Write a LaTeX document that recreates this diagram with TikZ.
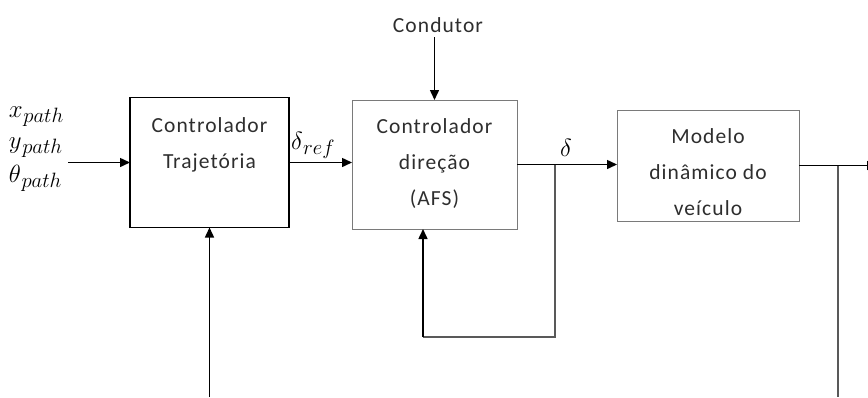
\documentclass[tikz,border=0pt]{standalone}
\usepackage{fontspec}
\setmainfont{Carlito}[LetterSpace=5]
\usetikzlibrary{arrows.meta}
\definecolor{txt}{HTML}{2E2E2E}
\definecolor{thinline}{HTML}{7A7A7A}
% signal name with a large lowered subscript
\newcommand{\signame}[2]{$#1$\kern0.5pt\raisebox{-5pt}{\fontsize{20}{22}\selectfont$#2$}}
\begin{document}
\begin{tikzpicture}[x=1pt,y=-1pt,
  every node/.style={inner sep=0pt, outer sep=0pt},
  lbl/.style={font=\fontsize{21.5}{36}\selectfont, text=txt, align=center},
  mathlbl/.style={font=\fontsize{24}{28}\selectfont},
  blockA/.style={draw=black, line width=1.8pt, minimum width=159pt, minimum height=130pt},
  blockB/.style={draw=thinline, line width=1pt},
  sig/.style={draw=black, line width=1.5pt, -{Triangle[length=10pt,width=9pt]}},
  fb/.style={draw=black!65, line width=1.3pt},
]
\useasboundingbox (0,0) rectangle (868,397);

% blocks
\node[blockA] (traj) at (209.5,162.5) {};
\node[blockB, minimum width=165pt, minimum height=129pt] (dir) at (434.5,164.5) {};
\node[blockB, minimum width=182pt, minimum height=111pt] (model) at (708,165.5) {};

% block texts
\node[lbl, anchor=north] (trajtxt) at (209.5,118) {Controlador\\Trajetória};
\node[lbl, anchor=north] (dirtxt) at (434.5,119) {Controlador\\direção\\(AFS)};
\node[lbl, anchor=north] (modeltxt) at (708,129) {Modelo\\dinâmico do\\veículo};

% signal labels
\node[mathlbl, anchor=base west] (xp) at (9,117) {\signame{x}{path}};
\node[mathlbl, anchor=base west] (yp) at (9,148) {\signame{y}{path}};
\node[mathlbl, anchor=base west] (tp) at (9,182) {\signame{\theta}{path}};
\node[mathlbl, anchor=base west] (dref) at (291,149) {\signame{\delta}{ref}};
\node[mathlbl] (dlt) at (566,148) {$\delta$};
\node[lbl] (cond) at (438,25) {Condutor};

% connection points
\coordinate (in) at (68,162.5);
\coordinate (condend) at (434.5,37);
\coordinate (br1) at (555,164.5);
\coordinate (fbcorner) at (555,337);
\coordinate (fbup) at (423,337);
\coordinate (dirin) at (423,229);
\coordinate (trajbot) at (209.5,397);
\coordinate (out) at (877,165.5);
\coordinate (br2) at (838,165.5);
\coordinate (br2end) at (838,397);

% forward path
\draw[sig] (in) -- (traj.west);
\draw[sig] (traj.east) -- (traj.east -| dir.west);
\draw[sig] (condend) -- (dir.north);
\draw[sig] (dir.east) -- (dir.east -| model.west);
\draw[sig] (model.east) -- (out);
\draw[sig] (trajbot) -- (traj.south);

% feedback paths
\draw[fb] (br1) -- (fbcorner) -- (fbup);
\draw[sig] (fbup) -- (dirin);
\draw[fb] (br2) -- (br2end);
\end{tikzpicture}
\end{document}
